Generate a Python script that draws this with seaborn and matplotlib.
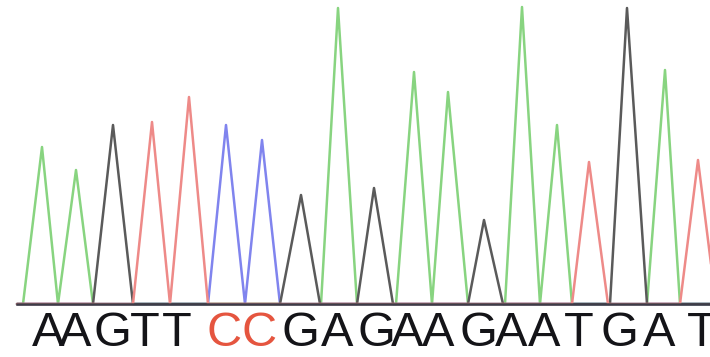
import pandas as pd
import seaborn as sns
import matplotlib.pyplot as plt

# called bases and the peak for each one
bases = list("AAGTTCCGAGAAGAATGAT")
red_letters = [5, 6]  # the two C calls are printed in red
peak_scan = [42, 76, 113, 152, 189, 226, 262, 301, 338, 374, 414, 448, 484, 522, 557, 589, 627, 665, 698]
peak_height = [157, 134, 179, 182, 207, 179, 164, 109, 296, 116, 232, 212, 84, 297, 179, 142, 296, 234, 144]
peak_start = [23, 58, 93, 133, 170, 208, 245, 280, 321, 357, 396, 432, 468, 505, 540, 572, 610, 647, 680]
peak_end = [58, 93, 133, 170, 208, 245, 280, 320, 357, 393, 432, 468, 503, 540, 572, 608, 647, 680, 716]
letter_scan = [48, 75, 112, 145, 177, 224, 259, 300, 337, 376, 407, 438, 478, 511, 544, 579, 619, 659, 702]

trace_start, trace_end = 17, 716
channel_colors = {"A": "#88d480", "C": "#8084ee", "G": "#5a5a5a", "T": "#ee8a88"}

rows = []
for ch in "ACGT":
    rows.append((ch, trace_start, 0))
    for b, s, x, h, e in zip(bases, peak_start, peak_scan, peak_height, peak_end):
        if b != ch:
            continue
        rows.append((ch, s, 0))
        rows.append((ch, x, h))
        rows.append((ch, e, 0))
    rows.append((ch, trace_end, 0))
trace = pd.DataFrame(rows, columns=["base", "scan", "signal"])

sns.set_style("white")
plt.rcParams["font.family"] = ["Liberation Sans", "DejaVu Sans"]

fig = plt.figure(figsize=(7.1, 3.57), dpi=100)
ax = fig.add_axes([0, 0, 1, 1])
sns.lineplot(data=trace, x="scan", y="signal", hue="base", palette=channel_colors,
             estimator=None, sort=False, units="base", linewidth=1.8, legend=False, ax=ax)
for line in ax.lines:
    line.set_solid_joinstyle("round")

ax.set_xlim(0, 710)
ax.set_ylim(-53, 304)
for side in ["top", "right", "left"]:
    ax.spines[side].set_visible(False)
ax.spines["bottom"].set_position(("data", 0))
ax.spines["bottom"].set_bounds(trace_start, 710)
ax.spines["bottom"].set_color("#3c3c48")
ax.spines["bottom"].set_linewidth(1.8)
ax.set_xticks([])
ax.set_yticks([])
ax.set_xlabel("")
ax.set_ylabel("")

for i, (b, x) in enumerate(zip(bases, letter_scan)):
    col = "#e5553f" if i in red_letters else "#141418"
    ax.text(x, -52.5, b, ha="center", va="bottom", fontsize=35, color=col)

fig.savefig("out.png", dpi=100)
